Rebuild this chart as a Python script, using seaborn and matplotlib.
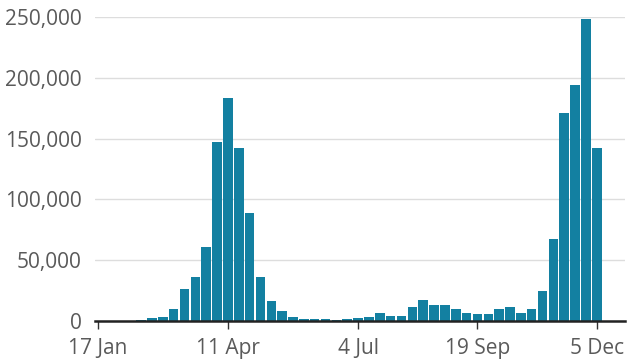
import matplotlib
matplotlib.use("Agg")
import matplotlib.pyplot as plt
import seaborn as sns
import pandas as pd
from matplotlib.ticker import FuncFormatter

# Weekly values, week starting 17 Jan
weeks = pd.date_range("2021-01-17", periods=47, freq="7D").strftime("%d %b")
values = [0, 0, 0, 300, 700, 2200, 3300, 9900, 26000, 36000,
          61000, 147500, 183000, 142000, 88500, 36500, 16700, 8000, 3300, 1400,
          1900, 1400, 500, 1600, 2700, 3300, 6300, 4400, 3800, 11800,
          17300, 12900, 12900, 10100, 6900, 6000, 6000, 9600, 11500, 6900,
          9900, 24700, 67400, 170800, 193800, 248400, 142300]
tick_positions = [0, 12, 24, 35, 46]
tick_labels = ["17 Jan", "11 Apr", "4 Jul", "19 Sep", "5 Dec"]
y_ticks = [0, 50000, 100000, 150000, 200000, 250000]

df = pd.DataFrame({"week": weeks, "value": values})

sns.set_theme(style="white")
plt.rcParams["font.family"] = ["Open Sans", "DejaVu Sans"]

fig = plt.figure(figsize=(6.4, 3.61), dpi=100)
ax = fig.add_axes([95 / 640, 40 / 361, 530 / 640, (321 - 17) / 361])

sns.barplot(data=df, x="week", y="value", color="#1380A1", saturation=1,
            width=0.88, linewidth=0, ax=ax, order=list(weeks))

ax.set_xlim(-0.25, 48.6)
ax.set_ylim(0, 250000)
ax.set_yticks(y_ticks)
ax.yaxis.set_major_formatter(FuncFormatter(lambda v, p: f"{int(v):,}"))
ax.set_xticks(tick_positions)
ax.set_xticklabels(tick_labels)
ax.set_xlabel("")
ax.set_ylabel("")

ax.grid(axis="y", color="#dddddd", linewidth=1)
ax.set_axisbelow(True)
for s in ["top", "right", "left"]:
    ax.spines[s].set_visible(False)
ax.spines["bottom"].set_color("#222222")
ax.spines["bottom"].set_linewidth(1.8)
ax.spines["bottom"].set_zorder(5)

ax.tick_params(axis="y", length=0, pad=9.5, labelsize=15, labelcolor="#5a5a5a")
ax.tick_params(axis="x", length=6, width=1, color="#333333", pad=6,
               labelsize=15, labelcolor="#5a5a5a", bottom=True)

fig.savefig("out.png", dpi=100)
